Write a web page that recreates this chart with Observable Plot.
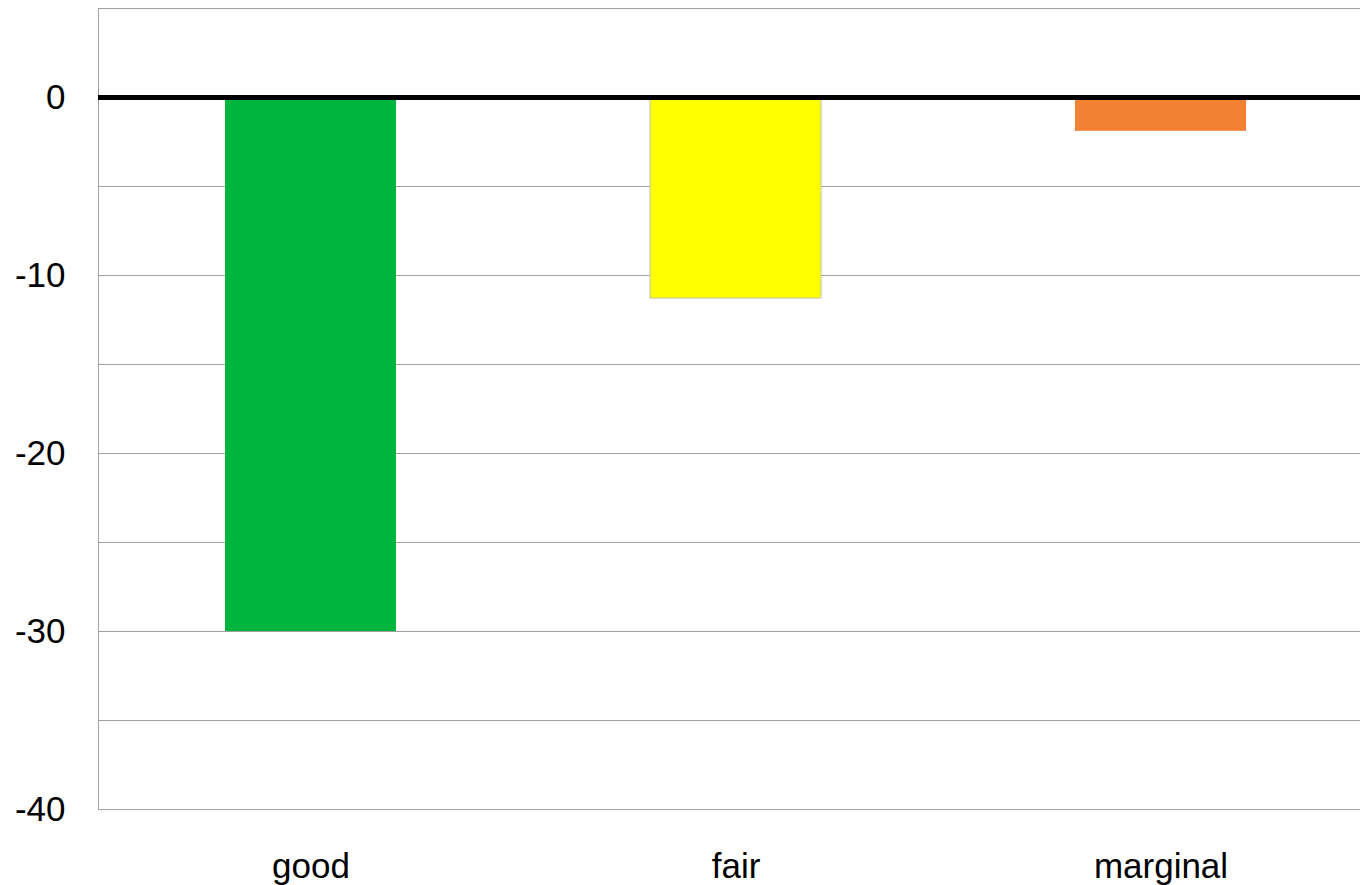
<!DOCTYPE html>
<html>
<head>
<meta charset="utf-8">
<script src="https://cdn.jsdelivr.net/npm/d3@7"></script>
<script src="https://cdn.jsdelivr.net/npm/@observablehq/plot@0.6"></script>
<style>
  html, body { margin: 0; padding: 0; background: #fff; }
  #chart svg { display: block; }
</style>
</head>
<body>
<div id="chart"></div>
<script>
// Change by rating category
const categories = ["good", "fair", "marginal"];
const values = [-30, -11.3, -1.9];
const barColors = ["#00b53d", "#ffff00", "#f38133"];
const barStrokes = ["none", "#c0c0c0", "none"];
const yTicks = [0, -10, -20, -30, -40];
const gridValues = [5, 0, -5, -10, -15, -20, -25, -30, -35, -40];

const rows = categories.map((c, i) => ({
  category: c, value: values[i], fill: barColors[i], stroke: barStrokes[i]
}));

const chart = Plot.plot({
  width: 1360,
  height: 885,
  marginLeft: 98,
  marginRight: 0,
  marginTop: 8,
  marginBottom: 76,
  style: { fontFamily: "Arial, 'Liberation Sans', sans-serif", background: "#fff" },
  // category bands run slightly past the right edge of the drawing
  x: { domain: categories, range: [98, 1373], paddingInner: 0.5976, paddingOuter: 0.2988, label: null },
  y: { domain: [-40, 5], label: null },
  marks: [
    Plot.ruleY(gridValues, { stroke: "#a0a0a0", strokeWidth: 1, strokeOpacity: 1 }),
    Plot.frame({ anchor: "left", stroke: "#a0a0a0", strokeOpacity: 1 }),
    Plot.barY(rows, {
      x: "category", y1: 0, y2: "value",
      fill: "fill", stroke: "stroke", strokeWidth: 1
    }),
    Plot.ruleY([0], { stroke: "#000", strokeWidth: 5 }),
    Plot.axisY(yTicks, {
      tickSize: 0, tickPadding: 33, fontSize: 35, fill: "#000", label: null,
      tickFormat: (d) => String(d)
    }),
    Plot.axisX({
      tickSize: 0, tickPadding: 44, fontSize: 35, fill: "#000", label: null
    })
  ]
});

document.getElementById("chart").appendChild(chart);
</script>
</body>
</html>
